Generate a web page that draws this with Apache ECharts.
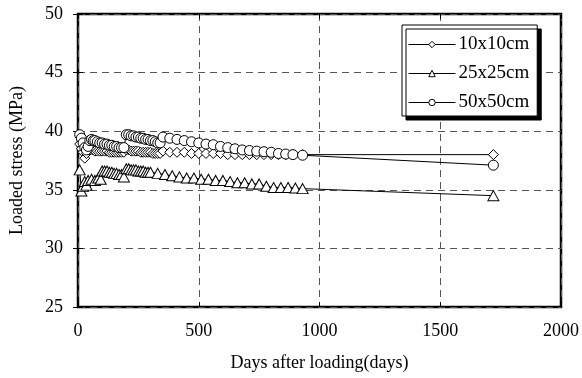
<!DOCTYPE html>
<html>
<head>
<meta charset="utf-8">
<script src="https://cdn.jsdelivr.net/npm/echarts@6/dist/echarts.min.js"></script>
<style>
  html, body { margin: 0; padding: 0; background: #fff; }
  #chart { width: 582px; height: 378px; }
</style>
</head>
<body>
<div id="chart"></div>
<script>
// Loaded stress vs. days after loading, three specimen sizes
const seriesNames = ['10x10cm', '25x25cm', '50x50cm'];

const days10 = [7, 14, 21, 28, 35, 42, 50, 60, 70, 80, 90, 100, 110, 120, 130, 140, 150, 160, 170, 180, 190,
  200, 210, 220, 230, 240, 250, 260, 270, 280, 290, 300, 310, 320, 330, 340,
  352, 380, 410, 440, 470, 500, 530, 560, 590, 620, 650, 680, 710, 740, 770, 800, 830, 860, 890, 930, 1720];
const stress10 = [38.9, 38.5, 38.2, 37.7, 38.1, 38.4, 38.4, 38.4, 38.3, 38.3, 38.3, 38.3, 38.3, 38.3, 38.2, 38.2, 38.2, 38.2, 38.2, 38.2, 38.2,
  38.4, 38.4, 38.3, 38.3, 38.3, 38.3, 38.2, 38.2, 38.2, 38.2, 38.2, 38.1, 38.1, 38.1, 38.1,
  38.3, 38.2, 38.2, 38.2, 38.1, 38.1, 38.1, 38.1, 38.1, 38.0, 38.0, 38.0, 38.0, 38.0, 38.0, 38.0, 38.0, 38.0, 38.0, 38.0, 38.0];

const days25 = [7, 14, 21, 28, 35, 42, 56, 70, 84, 94, 100, 110, 120, 130, 140, 150, 160, 170, 180, 190,
  200, 210, 220, 230, 240, 250, 260, 270, 280, 290, 300, 330, 360, 390, 420, 450, 480, 510, 540, 570, 600,
  630, 660, 690, 720, 750, 780, 810, 840, 870, 900, 930, 1720];
const stress25 = [36.7, 34.9, 35.3, 35.7, 35.4, 35.8, 35.9, 35.8, 36.0, 35.9, 36.6, 36.6, 36.6, 36.5, 36.5, 36.4, 36.4, 36.3, 36.3, 36.1,
  36.8, 36.8, 36.7, 36.7, 36.7, 36.6, 36.6, 36.6, 36.5, 36.5, 36.5, 36.4, 36.3, 36.2, 36.1, 36.0, 36.0, 35.9, 35.9, 35.8, 35.8,
  35.7, 35.6, 35.6, 35.5, 35.5, 35.3, 35.2, 35.2, 35.2, 35.15, 35.1, 34.5];

const days50 = [7, 14, 21, 28, 35, 42, 49, 56, 63, 70, 80, 90, 100, 110, 120, 130, 140, 150, 160, 170, 180, 190,
  200, 210, 220, 230, 240, 250, 260, 270, 280, 290, 300, 310, 320, 330, 340,
  352, 380, 410, 440, 470, 500, 530, 560, 590, 620, 650, 680, 710, 740, 770, 800, 830, 860, 890, 930, 1720];
const stress50 = [39.7, 39.4, 39.0, 38.6, 38.4, 38.7, 39.2, 39.3, 39.2, 39.2, 39.1, 39.0, 39.0, 38.9, 38.9, 38.8, 38.8, 38.7, 38.7, 38.6, 38.6, 38.6,
  39.7, 39.7, 39.6, 39.6, 39.5, 39.5, 39.4, 39.4, 39.3, 39.3, 39.2, 39.2, 39.1, 39.0, 39.0,
  39.5, 39.4, 39.3, 39.2, 39.1, 39.0, 38.9, 38.85, 38.7, 38.6, 38.5, 38.4, 38.35, 38.3, 38.25, 38.2, 38.1, 38.05, 38.0, 37.95, 37.1];

const xTicks = [0, 500, 1000, 1500, 2000];
const yTicks = [25, 30, 35, 40, 45, 50];

const zip = (xs, ys) => xs.map((x, i) => [x, ys[i]]);

const FONT = '"Liberation Serif", "DejaVu Serif", serif';
const markerStyle = { color: '#fff', borderColor: '#000', borderWidth: 1 };

function makeSeries(name, data, symbol, size) {
  return {
    name: name,
    type: 'line',
    data: data,
    symbol: symbol,
    symbolSize: size,
    showAllSymbol: true,
    lineStyle: { color: '#000', width: 1 },
    itemStyle: markerStyle,
    emphasis: { disabled: true },
    animation: false
  };
}

const chart = echarts.init(document.getElementById('chart'), null, { renderer: 'canvas' });

const gridDash = { color: '#555', width: 1, type: [7, 5] };
const tickStyle = { show: true, inside: true, length: 5, lineStyle: { color: '#000' } };

chart.setOption({
  backgroundColor: '#fff',
  animation: false,
  grid: {
    left: 78, right: 21, top: 14, bottom: 71,
    show: true, borderColor: '#000', borderWidth: 2.5, backgroundColor: 'transparent'
  },
  legend: {
    data: seriesNames,
    orient: 'vertical',
    left: 402, top: 25,
    padding: [10, 8, 4, 6],
    itemWidth: 47, itemHeight: 8, itemGap: 10,
    backgroundColor: '#fff',
    borderColor: '#000', borderWidth: 1,
    shadowColor: '#000', shadowBlur: 0, shadowOffsetX: 4, shadowOffsetY: 4,
    textStyle: { fontFamily: FONT, fontSize: 19, color: '#000', padding: [0, 0, 0, -2] },
    itemStyle: markerStyle,
    lineStyle: { color: '#000', width: 1 }
  },
  xAxis: [{
    type: 'value', min: 0, max: 2000, interval: 500,
    name: 'Days after loading(days)', nameLocation: 'middle', nameGap: 47,
    nameTextStyle: { fontFamily: FONT, fontSize: 18, color: '#000' },
    axisLine: { show: false },
    axisTick: tickStyle,
    axisLabel: { fontFamily: FONT, fontSize: 18, color: '#000', margin: 15,
      formatter: v => xTicks.includes(v) ? String(v) : '' },
    splitLine: { show: true, lineStyle: gridDash }
  }, {
    type: 'value', min: 0, max: 2000, interval: 500, position: 'top',
    axisLine: { show: false },
    axisTick: tickStyle,
    axisLabel: { show: false }, splitLine: { show: false }
  }],
  yAxis: [{
    type: 'value', min: 25, max: 50, interval: 5,
    name: 'Loaded stress (MPa)', nameLocation: 'middle', nameGap: 52, nameRotate: 90,
    nameTextStyle: { fontFamily: FONT, fontSize: 18, color: '#000' },
    axisLine: { show: false },
    axisTick: tickStyle,
    axisLabel: { fontFamily: FONT, fontSize: 18, color: '#000', margin: 15,
      formatter: v => yTicks.includes(v) ? String(v) : '' },
    splitLine: { show: true, lineStyle: gridDash }
  }, {
    type: 'value', min: 25, max: 50, interval: 5, position: 'right',
    axisLine: { show: false },
    axisTick: tickStyle,
    axisLabel: { show: false }, splitLine: { show: false }
  }],
  series: [
    makeSeries(seriesNames[0], zip(days10, stress10), 'diamond', [10, 10]),
    makeSeries(seriesNames[1], zip(days25, stress25), 'triangle', [11, 10]),
    makeSeries(seriesNames[2], zip(days50, stress50), 'circle', 10)
  ]
});
</script>
</body>
</html>
